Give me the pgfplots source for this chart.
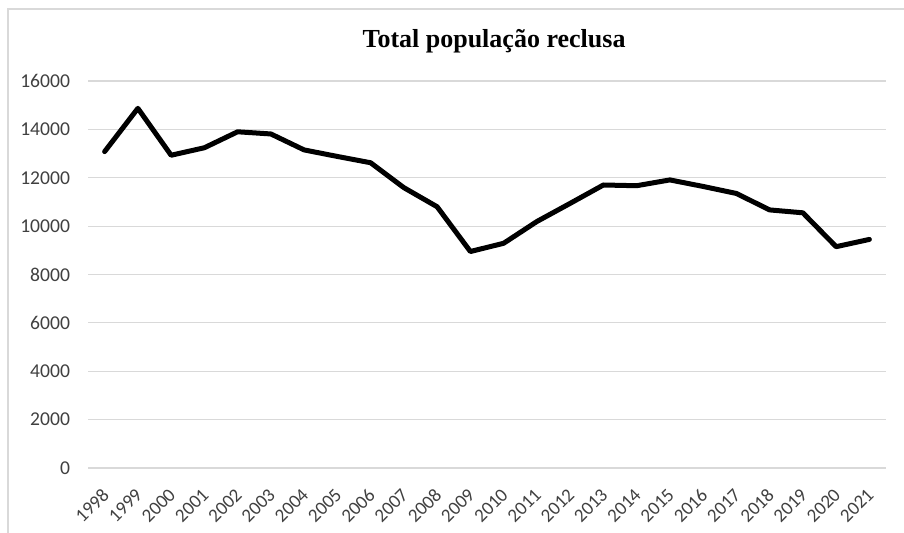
\documentclass[border=0pt]{standalone}
\usepackage{fontspec}
\setmainfont{Carlito}
\newfontfamily\titlefont{Liberation Serif}
\usepackage{pgfplots}
\pgfplotsset{compat=1.18}

\definecolor{gridgray}{HTML}{D9D9D9}
\definecolor{labelgray}{HTML}{404040}

\begin{document}
\begin{tikzpicture}
% canvas: 904 x 533 px at 0.5pt per px
\useasboundingbox (0,0) rectangle (452pt,266.5pt);
% chart frame (partly outside the picture)
\draw[gridgray, line width=0.8pt] (4pt,0pt) -- (4pt,262pt) -- (452pt,262pt);
\node[anchor=base, font=\titlefont\bfseries\fontsize{13}{15}\selectfont]
  at (247pt,242.8pt) {Total população reclusa};
\begin{axis}[
    at={(44pt,32.5pt)}, anchor=south west,
    scale only axis,
    width=399pt, height=193.5pt,
    xmin=1997.5, xmax=2021.5,
    ymin=0, ymax=16000,
    ytick={0,2000,...,16000},
    scaled ticks=false,
    xtick=data,
    axis line style={draw=none},
    axis x line*=bottom,
    tick style={draw=none},
    ymajorgrids,
    grid style={gridgray, line width=0.6pt},
    font=\fontsize{9.8}{11}\selectfont,
    /pgf/number format/assume math mode=true,
    /pgf/number format/1000 sep={},
    yticklabel style={xshift=-5.5pt, text=labelgray},
    xticklabel style={xshift=3pt, yshift=-9.5pt, rotate=45, anchor=east,
        text=labelgray, font=\fontsize{9.5}{11}\selectfont},
    clip=false,
]
\addplot[black, line width=2.5pt, line join=round, line cap=round] coordinates {
    (1998,13080) (1999,14870) (2000,12930) (2001,13240) (2002,13900)
    (2003,13810) (2004,13150) (2005,12880) (2006,12620) (2007,11590)
    (2008,10800) (2009,8950) (2010,9290) (2011,10190) (2012,10940)
    (2013,11700) (2014,11670) (2015,11910) (2016,11640) (2017,11350)
    (2018,10670) (2019,10550) (2020,9150) (2021,9450)
};
\end{axis}
\end{tikzpicture}
\end{document}
